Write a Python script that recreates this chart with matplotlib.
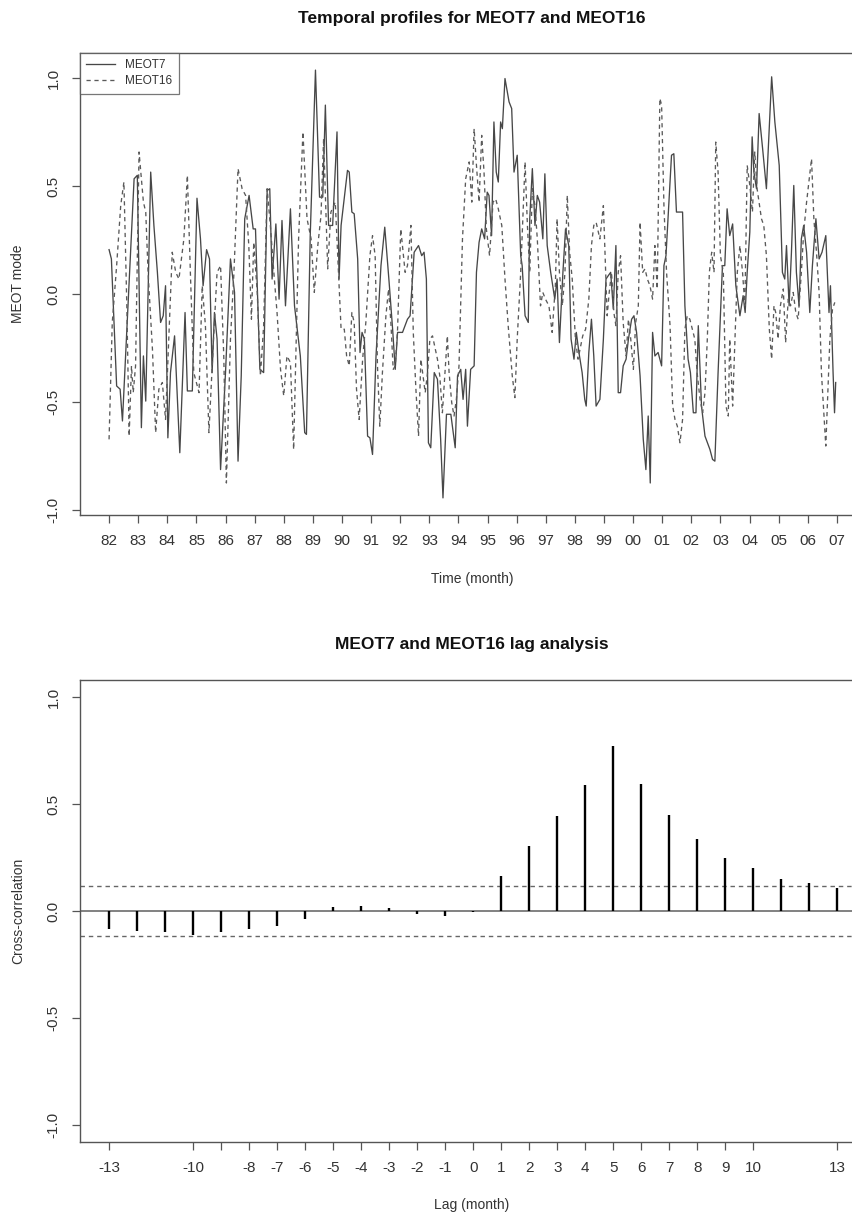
import matplotlib
matplotlib.use("Agg")
import matplotlib.pyplot as plt
import numpy as np

# ---------------- data ----------------
t_meot7 = [1982.00, 1982.08, 1982.26, 1982.38, 1982.46, 1982.86, 1982.97, 1983.11, 1983.18, 1983.26,
           1983.43, 1983.54, 1983.66, 1983.77, 1983.86, 1983.94, 1984.02, 1984.11, 1984.25, 1984.43,
           1984.61, 1984.69, 1984.86, 1985.02, 1985.14, 1985.23, 1985.35, 1985.45, 1985.54, 1985.62,
           1985.71, 1985.83, 1986.00, 1986.17, 1986.31, 1986.43, 1986.54, 1986.66, 1986.81, 1986.95,
           1987.03, 1987.18, 1987.31, 1987.43, 1987.52, 1987.60, 1987.73, 1987.84, 1987.94, 1988.06,
           1988.23, 1988.37, 1988.57, 1988.72, 1988.78, 1988.91, 1989.09, 1989.23, 1989.34, 1989.43,
           1989.54, 1989.68, 1989.83, 1989.90, 1989.97,
           1990.19, 1990.25, 1990.34, 1990.42, 1990.54, 1990.62, 1990.69, 1990.77, 1990.88, 1990.96,
           1991.05, 1991.17, 1991.34, 1991.47, 1991.62, 1991.74, 1991.83, 1991.91, 1992.08, 1992.25,
           1992.34, 1992.48, 1992.63, 1992.74, 1992.82, 1992.90, 1992.97, 1993.05, 1993.17, 1993.28,
           1993.39, 1993.47, 1993.59, 1993.74, 1993.89, 1993.97, 1994.08, 1994.16, 1994.25, 1994.31,
           1994.42, 1994.54, 1994.62, 1994.71, 1994.80, 1994.90, 1994.99, 1995.05, 1995.14, 1995.22,
           1995.30, 1995.37, 1995.45, 1995.51, 1995.60, 1995.74, 1995.83, 1995.91, 1996.02, 1996.14,
           1996.19, 1996.29, 1996.40, 1996.45, 1996.54, 1996.63, 1996.71, 1996.79, 1996.90, 1996.97,
           1997.05, 1997.17, 1997.31, 1997.39, 1997.47, 1997.59, 1997.68, 1997.79, 1997.87, 1997.97,
           1998.05, 1998.14, 1998.25, 1998.34, 1998.39, 1998.48, 1998.57, 1998.65, 1998.73,
           1998.86, 1998.98, 1999.07, 1999.15, 1999.23, 1999.32, 1999.41, 1999.49, 1999.57, 1999.66,
           1999.76, 1999.84, 1999.95, 2000.03, 2000.12, 2000.24, 2000.35, 2000.44, 2000.52, 2000.59,
           2000.67, 2000.75, 2000.86, 2000.98, 2001.06, 2001.13, 2001.32, 2001.40, 2001.49, 2001.70,
           2001.78, 2001.89, 2001.97, 2002.07, 2002.16, 2002.24, 2002.35, 2002.47, 2002.64, 2002.73,
           2002.81, 2002.92, 2003.07, 2003.15, 2003.23, 2003.32, 2003.42, 2003.53, 2003.67, 2003.78,
           2003.85, 2003.92, 2004.01, 2004.09, 2004.15, 2004.24, 2004.33, 2004.45, 2004.58, 2004.76,
           2004.87, 2005.02, 2005.13, 2005.21, 2005.27, 2005.36, 2005.44, 2005.52, 2005.61, 2005.70,
           2005.78, 2005.86, 2005.96, 2006.07, 2006.16, 2006.28, 2006.39, 2006.49, 2006.62, 2006.73,
           2006.78, 2006.87, 2006.92, 2006.96]
v_meot7 = [0.207, 0.164, -0.424, -0.439, -0.586, 0.535, 0.551, -0.617, -0.285, -0.494,
           0.566, 0.319, 0.102, -0.130, -0.099, 0.040, -0.664, -0.362, -0.192, -0.733,
           -0.084, -0.447, -0.447, 0.445, 0.257, 0.040, 0.207, 0.164, -0.362, -0.084,
           -0.207, -0.811, -0.362, 0.164, 0.009, -0.772, -0.377, 0.350, 0.458, 0.303,
           0.303, -0.347, -0.362, 0.481, 0.489, 0.071, 0.326, -0.022, 0.342, -0.053,
           0.396, -0.053, -0.285, -0.640, -0.648, 0.272, 1.038, 0.450, 0.450, 0.876,
           0.319, 0.319, 0.752, 0.071, 0.319,
           0.574, 0.566, 0.381, 0.373, 0.164, -0.269, -0.176, -0.207, -0.656, -0.664,
           -0.741, -0.285, 0.133, 0.311, 0.056, -0.161, -0.347, -0.176, -0.176, -0.115,
           -0.099, 0.195, 0.226, 0.179, 0.195, 0.071, -0.687, -0.710, -0.362, -0.393,
           -0.671, -0.942, -0.555, -0.555, -0.710, -0.377, -0.347, -0.486, -0.347, -0.610,
           -0.347, -0.331, 0.102, 0.241, 0.303, 0.257, 0.473, 0.458, 0.272, 0.798,
           0.566, 0.520, 0.798, 0.767, 0.999, 0.891, 0.860, 0.566, 0.644, 0.179,
           0.133, -0.099, -0.130, 0.350, 0.582, 0.319, 0.458, 0.427, 0.257, 0.558,
           0.226, 0.102, -0.022, 0.071, -0.223, 0.102, 0.303, 0.226, -0.207, -0.300,
           -0.176, -0.269, -0.362, -0.486, -0.517, -0.269, -0.115, -0.285, -0.517,
           -0.486, -0.207, 0.071, 0.087, 0.102, -0.068, 0.226, -0.455, -0.455, -0.331,
           -0.300, -0.207, -0.115, -0.099, -0.176, -0.377, -0.671, -0.811, -0.563, -0.873,
           -0.176, -0.285, -0.269, -0.331, 0.133, 0.179, 0.644, 0.651, 0.381, 0.381,
           -0.053, -0.300, -0.362, -0.548, -0.548, -0.145, -0.517, -0.656, -0.718, -0.764,
           -0.772, -0.362, 0.133, 0.133, 0.396, 0.272, 0.326, 0.040, -0.099, -0.006,
           -0.084, 0.102, 0.288, 0.729, 0.566, 0.489, 0.837, 0.674, 0.489, 1.007,
           0.798, 0.597, 0.102, 0.071, 0.226, -0.053, 0.195, 0.504, 0.102, -0.053,
           0.257, 0.319, 0.195, -0.084, 0.133, 0.350, 0.164, 0.195, 0.272, -0.084,
           0.040, -0.362, -0.548, -0.408]

t_meot16 = [1982.00, 1982.11, 1982.26, 1982.40, 1982.51, 1982.61, 1982.69, 1982.77, 1982.83, 1982.91,
            1983.03, 1983.18, 1983.26, 1983.34, 1983.49, 1983.60, 1983.71, 1983.83, 1983.94, 1984.17,
            1984.29, 1984.40, 1984.57, 1984.69, 1984.80, 1984.91, 1985.09, 1985.20, 1985.31, 1985.43,
            1985.60, 1985.71, 1985.83, 1985.94, 1986.03, 1986.17, 1986.29, 1986.43, 1986.57, 1986.69,
            1986.80, 1986.89, 1986.97, 1987.09, 1987.20, 1987.31, 1987.43, 1987.54, 1987.66, 1987.77,
            1987.89, 1988.00, 1988.11, 1988.23, 1988.34, 1988.51, 1988.66, 1988.80, 1988.94, 1989.05,
            1989.17, 1989.28, 1989.37, 1989.51, 1989.62, 1989.77, 1989.89, 1989.97,
            1990.08, 1990.16, 1990.25, 1990.34, 1990.42, 1990.50, 1990.59, 1990.71, 1990.82, 1990.96,
            1991.05, 1991.14, 1991.22, 1991.30, 1991.39, 1991.51, 1991.60, 1991.68, 1991.76, 1991.83,
            1991.91, 1992.02, 1992.10, 1992.17, 1992.25, 1992.37, 1992.45, 1992.54, 1992.63, 1992.71,
            1992.86, 1992.94, 1993.02, 1993.11, 1993.28, 1993.36, 1993.45, 1993.54, 1993.62, 1993.68,
            1993.77, 1993.85, 1993.93, 1994.02, 1994.14, 1994.25, 1994.37, 1994.46, 1994.54, 1994.62,
            1994.71, 1994.80, 1994.88, 1994.96, 1995.07, 1995.19, 1995.28, 1995.37, 1995.49, 1995.60,
            1995.71, 1995.85, 1995.94, 1996.02, 1996.14, 1996.22, 1996.29, 1996.37, 1996.45, 1996.54,
            1996.63, 1996.71, 1996.82, 1996.90, 1996.99, 1997.11, 1997.22, 1997.33, 1997.39, 1997.47,
            1997.57, 1997.66, 1997.74, 1997.82, 1997.91, 1998.02, 1998.11, 1998.27, 1998.37, 1998.48,
            1998.57, 1998.65, 1998.73,
            1998.86, 1998.98, 1999.06, 1999.11, 1999.18, 1999.26, 1999.34, 1999.41, 1999.49, 1999.57,
            1999.66, 1999.76, 1999.84, 1999.92, 2000.01, 2000.09, 2000.18, 2000.24, 2000.33, 2000.41,
            2000.49, 2000.58, 2000.67, 2000.75, 2000.83, 2000.92, 2000.98, 2001.06, 2001.15, 2001.27,
            2001.36, 2001.44, 2001.52, 2001.61, 2001.70, 2001.78, 2001.86, 2001.95, 2002.12, 2002.20,
            2002.30, 2002.39, 2002.47, 2002.55, 2002.62, 2002.70, 2002.78, 2002.84, 2002.92, 2003.00,
            2003.10, 2003.19, 2003.27, 2003.32, 2003.42, 2003.50, 2003.58, 2003.67, 2003.76, 2003.84,
            2003.92, 2004.01, 2004.10, 2004.18, 2004.26, 2004.41, 2004.49, 2004.58, 2004.68, 2004.76,
            2004.84, 2004.90, 2004.98, 2005.06, 2005.16, 2005.24, 2005.33, 2005.41, 2005.50, 2005.59,
            2005.67, 2005.78, 2005.86, 2005.96, 2006.05, 2006.13, 2006.21, 2006.30, 2006.39, 2006.47,
            2006.55, 2006.62, 2006.70, 2006.76, 2006.85, 2006.93]
v_meot16 = [-0.671, -0.130, 0.133, 0.411, 0.520, -0.053, -0.656, -0.331, -0.455, -0.331,
            0.659, 0.427, 0.381, 0.102, -0.254, -0.640, -0.439, -0.408, -0.579, 0.195,
            0.102, 0.071, 0.257, 0.551, 0.071, -0.362, -0.455, 0.040, -0.145, -0.640,
            -0.176, 0.102, 0.133, -0.285, -0.873, -0.207, 0.102, 0.582, 0.489, 0.458,
            0.226, -0.115, 0.241, 0.009, -0.377, -0.145, 0.489, 0.319, 0.102, -0.084,
            -0.347, -0.470, -0.285, -0.316, -0.718, 0.257, 0.752, 0.350, 0.257, 0.009,
            0.226, 0.365, 0.721, 0.118, 0.381, 0.427, 0.071, -0.161,
            -0.161, -0.285, -0.331, -0.084, -0.130, -0.439, -0.579, -0.300, -0.130, 0.179,
            0.272, 0.179, -0.331, -0.610, -0.362, -0.099, 0.025, -0.130, -0.347, -0.331,
            -0.161, 0.303, 0.195, 0.102, 0.133, 0.319, -0.176, -0.439, -0.656, -0.300,
            -0.455, -0.362, -0.207, -0.192, -0.300, -0.377, -0.548, -0.362, -0.192, -0.362,
            -0.501, -0.563, -0.486, -0.331, 0.257, 0.535, 0.613, 0.427, 0.767, 0.597,
            0.427, 0.736, 0.566, 0.303, 0.179, 0.427, 0.442, 0.396, 0.319, 0.071,
            -0.145, -0.377, -0.478, -0.207, 0.102, 0.381, 0.613, 0.319, 0.102, 0.489,
            0.411, 0.257, -0.053, 0.009, -0.022, -0.053, -0.176, 0.040, 0.350, 0.102,
            -0.053, 0.102, 0.458, 0.195, 0.071, -0.207, -0.300, -0.192, -0.161, -0.022,
            0.226, 0.319, 0.334,
            0.257, 0.411, 0.102, -0.099, 0.009, 0.102, -0.084, -0.145, 0.102, 0.179,
            -0.130, -0.285, -0.115, -0.207, -0.347, -0.130, -0.053, 0.334, 0.102, 0.118,
            0.071, 0.040, -0.022, 0.226, 0.025, 0.907, 0.876, 0.411, 0.102, -0.145,
            -0.517, -0.579, -0.610, -0.687, -0.579, -0.161, -0.099, -0.115, -0.207, -0.362,
            -0.486, -0.548, -0.455, -0.207, 0.102, 0.195, 0.102, 0.705, 0.566, 0.179,
            0.102, -0.517, -0.563, -0.207, -0.517, -0.207, 0.102, 0.226, 0.102, -0.053,
            0.597, 0.504, 0.381, 0.659, 0.489, 0.350, 0.319, 0.179, -0.161, -0.300,
            -0.053, -0.084, -0.207, -0.053, 0.025, -0.223, -0.022, -0.053, 0.009, -0.084,
            -0.115, 0.102, 0.288, 0.427, 0.535, 0.628, 0.350, 0.195, 0.009, -0.362,
            -0.548, -0.702, -0.424, -0.207, -0.068, -0.037]

year_ticks = list(range(1982, 2008))
year_labels = ["%02d" % (y % 100) for y in year_ticks]

lags = list(range(-13, 14))
ccf_values = [-0.085, -0.094, -0.098, -0.112, -0.096, -0.085, -0.068, -0.036, 0.018, 0.023,
              0.012, -0.012, -0.023, -0.005, 0.164, 0.306, 0.443, 0.587, 0.770, 0.593,
              0.450, 0.335, 0.249, 0.199, 0.151, 0.133, 0.107]
conf_limit = 0.115
lag_ticks = [-13, -10, -9, -8, -7, -6, -5, -4, -3, -2, -1, 0, 1, 2, 3, 4, 5, 6, 7, 8, 9, 10, 13]
lag_labels = [("" if v == -9 else str(v)) for v in lag_ticks]

# ---------------- figure ----------------
plt.rcParams['font.family'] = ['Liberation Sans', 'DejaVu Sans']
W, H = 853, 1213
fig = plt.figure(figsize=(W / 100, H / 100), dpi=100)
fig.patch.set_facecolor('white')

BOX = '#555555'
TXT = '#333333'
LINE7 = '#474747'
LINE16 = '#5a5a5a'


def r_range(vals):
    lo, hi = min(vals), max(vals)
    pad = 0.04 * (hi - lo)
    return lo - pad, hi + pad


def style_axes(ax):
    for s in ax.spines.values():
        s.set_color(BOX)
        s.set_linewidth(1.0)
    ax.tick_params(direction='out', length=6, width=0.9, color=BOX,
                   labelcolor=TXT, labelsize=11, pad=8)


# ---- top panel ----
ax1 = fig.add_axes([80 / W, 1 - 515 / H, 0.92, 462 / H])
ax1.plot(t_meot7, v_meot7, color=LINE7, lw=0.95, ls='-', label='MEOT7')
ax1.plot(t_meot16, v_meot16, color=LINE16, lw=0.95, ls=(0, (3.2, 2.8)), label='MEOT16')
ax1.set_xlim(*r_range(t_meot7 + t_meot16))
ax1.set_ylim(*r_range(v_meot7 + v_meot16))
ax1.set_xticks(year_ticks)
ax1.set_xticklabels(year_labels)
ax1.set_yticks([-1.0, -0.5, 0.0, 0.5, 1.0])
ax1.set_yticklabels(['-1.0', '-0.5', '0.0', '0.5', '1.0'], rotation=90, va='center')
style_axes(ax1)
leg = ax1.legend(loc='upper left', fontsize=8.5, frameon=True, fancybox=False,
                 borderaxespad=0, handlelength=2.4, borderpad=0.55, labelspacing=0.3,
                 handletextpad=0.9)
leg.get_frame().set_edgecolor(BOX)
leg.get_frame().set_linewidth(0.9)
for t in leg.get_texts():
    t.set_color(TXT)

fig.text(472 / W, 1 - 18 / H, 'Temporal profiles for MEOT7 and MEOT16',
         ha='center', va='center', fontsize=12.5, fontweight='bold', color='#111111')
fig.text(472 / W, 1 - 579 / H, 'Time (month)', ha='center', va='center',
         fontsize=10, color=TXT)
fig.text(18 / W, 1 - 284 / H, 'MEOT mode', ha='center', va='center',
         fontsize=10, color=TXT, rotation=90)

# ---- bottom panel ----
ax2 = fig.add_axes([80 / W, 1 - 1142 / H, 0.922, 462 / H])
ax2.axhline(0, color='#777777', lw=1.3, zorder=1)
ax2.axhline(conf_limit, color='#666666', lw=1.0, ls=(0, (3.2, 2.8)), zorder=1)
ax2.axhline(-conf_limit, color='#666666', lw=1.0, ls=(0, (3.2, 2.8)), zorder=1)
ax2.vlines(lags, 0, ccf_values, color='black', lw=1.7, zorder=2)
ax2.set_xlim(*r_range(lags))
ax2.set_ylim(*r_range([-1.0, 1.0]))
ax2.set_xticks(lag_ticks)
ax2.set_xticklabels(lag_labels)
ax2.set_yticks([-1.0, -0.5, 0.0, 0.5, 1.0])
ax2.set_yticklabels(['-1.0', '-0.5', '0.0', '0.5', '1.0'], rotation=90, va='center')
style_axes(ax2)

fig.text(472 / W, 1 - 644 / H, 'MEOT7 and MEOT16 lag analysis',
         ha='center', va='center', fontsize=12.5, fontweight='bold', color='#111111')
fig.text(472 / W, 1 - 1205 / H, 'Lag (month)', ha='center', va='center',
         fontsize=10, color=TXT)
fig.text(18 / W, 1 - 911 / H, 'Cross-correlation', ha='center', va='center',
         fontsize=10, color=TXT, rotation=90)

fig.savefig('out.png', dpi=100, facecolor='white')
